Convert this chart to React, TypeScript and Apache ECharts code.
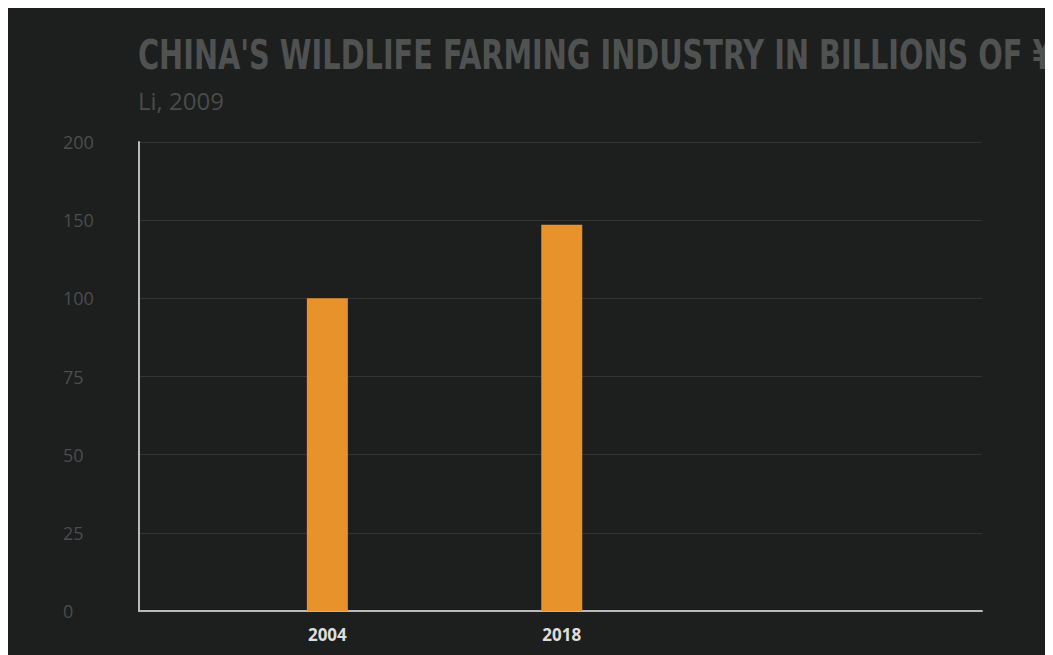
import React, { useEffect, useRef } from "react";
import * as echarts from "echarts";

const years = [2004, 2018];
const values = [100, 147];
const tickLabels = ["0", "25", "50", "75", "100", "150", "200"];
const tickValues = [0, 25, 50, 75, 100, 150, 200];
const titleText = "CHINA'S WILDLIFE FARMING INDUSTRY IN BILLIONS OF ¥";
const subtitleText = "Li, 2009";

// map a real value onto the evenly spaced tick index used by the axis
function toTickIndex(v: number): number {
  for (let i = 1; i < tickValues.length; i++) {
    if (v <= tickValues[i]) {
      const a = tickValues[i - 1];
      const b = tickValues[i];
      return i - 1 + (v - a) / (b - a);
    }
  }
  return tickValues.length - 1;
}

export default function App() {
  const ref = useRef<HTMLDivElement>(null);
  useEffect(() => {
    document.body.style.overflow = "hidden";
    const chart = echarts.init(ref.current!, null, { renderer: "svg" });

    const font = "'DejaVu Sans Condensed', 'Liberation Sans Narrow', sans-serif";
    const ctx = document.createElement("canvas").getContext("2d")!;
    ctx.font = `bold 40px ${font}`;
    const w = ctx.measureText("CHINA'S WILDLIFE FARMING INDUSTRY IN BILLIONS OF").width;
    const sx = 885 / w;

    chart.setOption({
      animation: false,
      backgroundColor: "#1d1e1e",
      graphic: [
        {
          type: "text",
          left: 130,
          top: 27,
          scaleX: sx,
          style: {
            text: titleText,
            fill: "#505151",
            font: `bold 40px ${font}`,
          },
        },
        {
          type: "text",
          left: 130,
          top: 80,
          style: {
            text: subtitleText,
            fill: "#4a4b4b",
            font: "24px 'Open Sans', sans-serif",
          },
        },
      ],
      grid: { left: 131, top: 134, width: 843, height: 469, containLabel: false },
      xAxis: {
        type: "value",
        min: 1992.75,
        max: 2043.1,
        splitLine: { show: false },
        axisTick: { show: false },
        axisLine: { show: true, lineStyle: { color: "#b9b9b9", width: 2 } },
        axisLabel: {
          customValues: years,
          color: "#dedede",
          fontSize: 17,
          fontWeight: "bold",
          fontFamily: "'Open Sans', sans-serif",
          margin: 15,
          formatter: (v: number) => String(v),
        },
        axisPointer: { show: false },
      },
      yAxis: {
        type: "value",
        min: 0,
        max: tickLabels.length - 1,
        interval: 1,
        axisLine: { show: true, lineStyle: { color: "#b9b9b9", width: 2 } },
        axisTick: { show: false },
        splitLine: { show: true, lineStyle: { color: "#333434", width: 1 } },
        axisLabel: {
          color: "#4c4d4d",
          fontSize: 18,
          fontFamily: "'Open Sans', sans-serif",
          align: "left",
          margin: 76,
          formatter: (v: number) => tickLabels[Math.round(v)] ?? "",
        },
      },
      series: [
        {
          type: "bar",
          barWidth: 41,
          itemStyle: { color: "#e8922c" },
          data: years.map((y, i) => [y, toTickIndex(values[i])]),
        },
      ],
    });
    return () => chart.dispose();
  }, []);
  return <div ref={ref} style={{ width: 1045, height: 647 }} />;
}
